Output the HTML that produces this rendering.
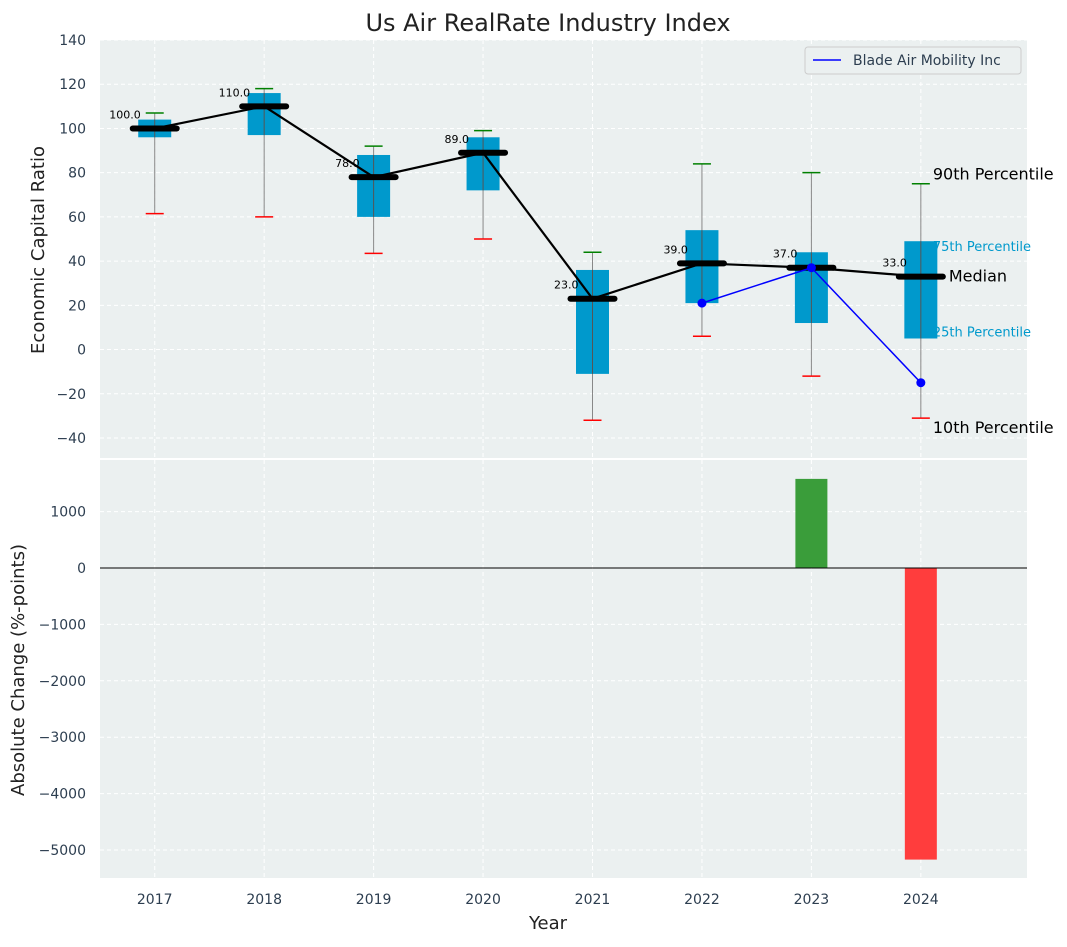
<!DOCTYPE html>
<html><head><meta charset="utf-8"><style>
body{margin:0;background:#fff;font-family:"Liberation Sans","DejaVu Sans",sans-serif}
svg text{font-family:"DejaVu Sans","Liberation Sans",sans-serif}
</style></head><body>
<svg id="c" width="1067" height="942" xmlns="http://www.w3.org/2000/svg"></svg>
<script>
const years=[2017,2018,2019,2020,2021,2022,2023,2024];
const p10=[61.5,60,43.5,50,-32,6,-12,-31];
const q1=[96,97,60,72,-11,21,12,5];
const med=[100,110,78,89,23,39,37,33];
const q3=[104,116,88,96,36,54,44,49];
const p90=[107,118,92,99,44,84,80,75];
const bladeYears=[2022,2023,2024];
const bladeVals=[21,37,-15];
const changeYears=[2023,2024];
const changeVals=[1580,-5170];
const topTicks=[-40,-20,0,20,40,60,80,100,120,140];
const botTicks=[-5000,-4000,-3000,-2000,-1000,0,1000];

const svg=document.getElementById('c');const NS='http://www.w3.org/2000/svg';
function el(t,a,txt){const e=document.createElementNS(NS,t);for(const k in a)e.setAttribute(k,a[k]);if(txt!==undefined)e.textContent=txt;svg.appendChild(e);return e;}
const L=100,R=1027;
const x=v=>L+(v-2016.5)*(R-L)/(2024.97-2016.5);
const yT=v=>40+(140-v)*(398/180);
const yB=v=>568-v*0.0564;
let e=el('rect',{x:L,y:40,width:R-L,height:418,fill:'#ebf0f0'});

e=el('rect',{x:L,y:460,width:R-L,height:418,fill:'#ebf0f0'});

years.forEach(yr=>{[[40,458],[460,878]].forEach(r=>{e=el('line',{x1:x(yr),x2:x(yr),y1:r[0],y2:r[1],stroke:'#fff','stroke-dasharray':'4,3','stroke-width':1});});
 e=el('text',{x:x(yr),y:904,'text-anchor':'middle','font-size':14,fill:'#2d3e50'},yr);});
topTicks.forEach(t=>{e=el('line',{x1:L,x2:R,y1:yT(t),y2:yT(t),stroke:'#fff','stroke-dasharray':'4,3'});
 e=el('text',{x:L-14,y:yT(t)+5,'text-anchor':'end','font-size':14,fill:'#2d3e50'},t<0?'−'+(-t):t);});
botTicks.forEach(t=>{e=el('line',{x1:L,x2:R,y1:yB(t),y2:yB(t),stroke:'#fff','stroke-dasharray':'4,3'});
 e=el('text',{x:L-14,y:yB(t)+5,'text-anchor':'end','font-size':14,fill:'#2d3e50'},t<0?'−'+(-t):t);});
years.forEach((yr,i)=>{const cx=x(yr);
 e=el('line',{x1:cx,x2:cx,y1:yT(p90[i]),y2:yT(p10[i]),stroke:'#888','stroke-width':1});
 e=el('rect',{x:cx-16.5,y:yT(q3[i]),width:33,height:yT(q1[i])-yT(q3[i]),fill:'#0099cc'});
 e=el('line',{x1:cx,x2:cx,y1:yT(q3[i]),y2:yT(q1[i]),stroke:'#555','stroke-width':1});
 e=el('line',{x1:cx-9,x2:cx+9,y1:yT(p90[i]),y2:yT(p90[i]),stroke:'green','stroke-width':1.5});
 e=el('line',{x1:cx-9,x2:cx+9,y1:yT(p10[i]),y2:yT(p10[i]),stroke:'red','stroke-width':1.5});
 e=el('line',{x1:cx-22,x2:cx+22,y1:yT(med[i]),y2:yT(med[i]),stroke:'#000','stroke-width':6,'stroke-linecap':'round'});
 e=el('text',{x:cx-14,y:yT(med[i])-10,'text-anchor':'end','font-size':11,fill:'#000'},med[i].toFixed(1));
});
e=el('polyline',{points:years.map((yr,i)=>x(yr)+','+yT(med[i])).join(' '),fill:'none',stroke:'#000','stroke-width':2.2});
e=el('polyline',{points:bladeYears.map((yr,i)=>x(yr)+','+yT(bladeVals[i])).join(' '),fill:'none',stroke:'blue','stroke-width':1.5});
bladeYears.forEach((yr,i)=>{e=el('circle',{cx:x(yr),cy:yT(bladeVals[i]),r:4.5,fill:'blue'});});
changeYears.forEach((yr,i)=>{const v=changeVals[i];e=el('rect',{x:x(yr)-16,y:Math.min(yB(v),yB(0)),width:32,height:Math.abs(yB(v)-yB(0)),fill:v>=0?'#3a9d3a':'#ff3d3d'});});
e=el('line',{x1:L,x2:R,y1:yB(0),y2:yB(0),stroke:'#000','stroke-width':1});
const lx=x(2024);
[['90th Percentile',yT(p90[7])-4,16,'#000'],['75th Percentile',yT(q3[7])+10,13,'#0099cc'],['Median',yT(med[7])+5,16,'#000'],['25th Percentile',yT(q1[7])-2,13,'#0099cc'],['10th Percentile',yT(p10[7])+15,16,'#000']].forEach((a,k)=>{
 e=el('text',{x:k==2?lx+28:lx+12,y:a[1],'font-size':a[2],fill:a[3]},a[0]);});
e=el('rect',{x:805,y:47,width:216,height:27,fill:'#ebf0f0',stroke:'#ccc',rx:3});
e=el('line',{x1:813,x2:841,y1:60,y2:60,stroke:'blue','stroke-width':1.5});
e=el('text',{x:853,y:65,'font-size':14,fill:'#2d3e50'},'Blade Air Mobility Inc');
e=el('text',{x:548,y:31,'text-anchor':'middle','font-size':24,fill:'#222'},'Us Air RealRate Industry Index');
e=el('text',{x:548,y:929,'text-anchor':'middle','font-size':18,fill:'#222'},'Year');
e=el('text',{x:44,y:250,'text-anchor':'middle','font-size':18,fill:'#222',transform:'rotate(-90 44 250)'},'Economic Capital Ratio');
e=el('text',{x:24,y:670,'text-anchor':'middle','font-size':18,fill:'#222',transform:'rotate(-90 24 670)'},'Absolute Change (%-points)');
</script></body></html>
